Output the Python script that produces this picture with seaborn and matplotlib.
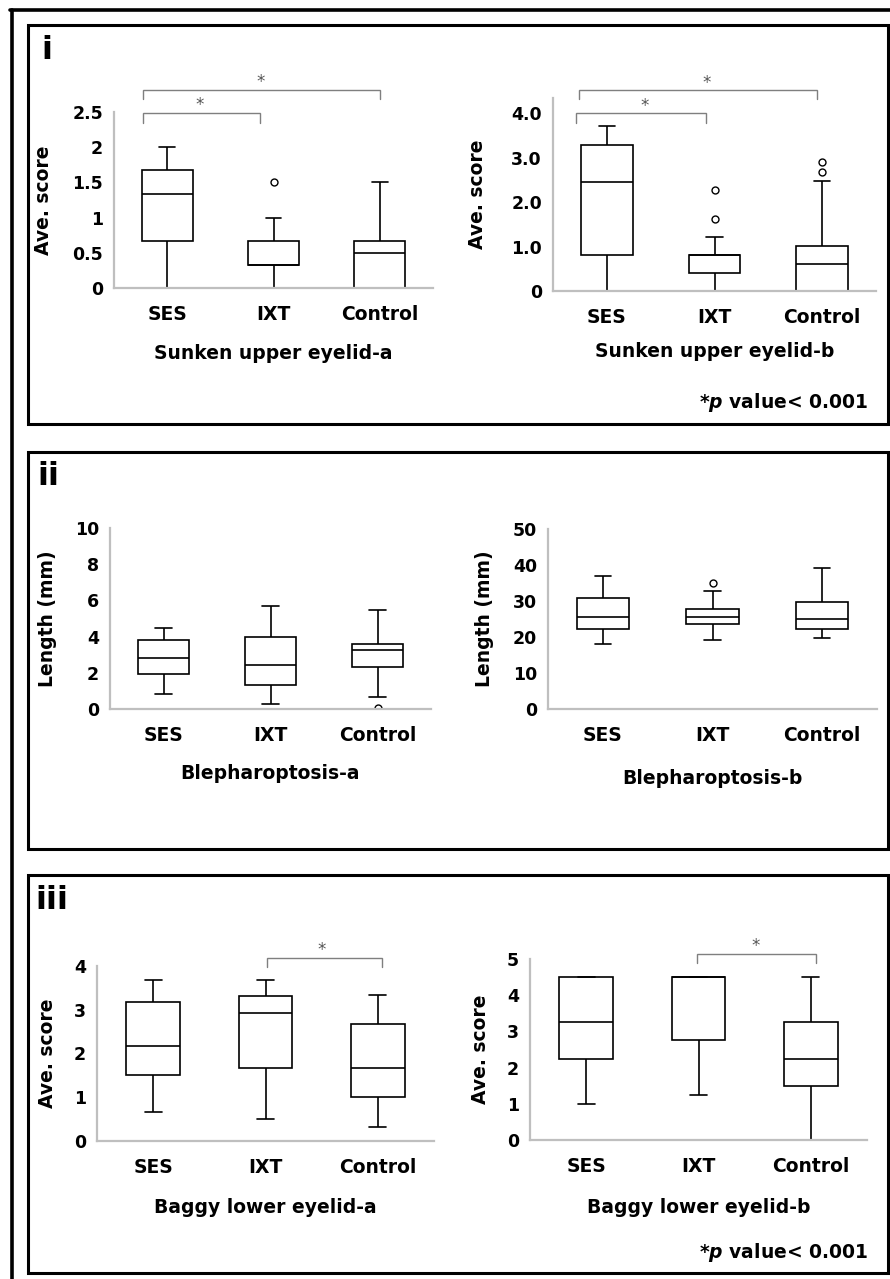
import numpy as np
import pandas as pd
import matplotlib
matplotlib.use("Agg")
import matplotlib.pyplot as plt
from matplotlib.patches import Rectangle
from matplotlib.lines import Line2D
import seaborn as sns

# ---------------- data (five-number summaries: [min, Q1, median, Q3, max]) -------------
GROUPS = ["SES", "IXT", "Control"]

SUA_SES = [0.0, 0.67, 1.33, 1.67, 2.0]
SUA_IXT = [0.0, 0.33, 0.33, 0.67, 1.0]
SUA_CTRL = [0.0, 0.0, 0.5, 0.67, 1.5]
SUA_OUTLIERS = [("IXT", 1.5)]

SUB_SES = [0.0, 0.81, 2.46, 3.29, 3.71]
SUB_IXT = [0.0, 0.40, 0.81, 0.81, 1.22]
SUB_CTRL = [0.0, 0.0, 0.61, 1.02, 2.47]
SUB_OUTLIERS = [("IXT", 1.63), ("IXT", 2.27), ("Control", 2.68), ("Control", 2.89)]

BPA_SES = [0.83, 1.95, 2.80, 3.83, 4.46]
BPA_IXT = [0.29, 1.31, 2.45, 3.98, 5.69]
BPA_CTRL = [0.66, 2.32, 3.24, 3.59, 5.49]
BPA_OUTLIERS = [("Control", 0.05)]

BPB_SES = [18.0, 22.2, 25.6, 30.8, 36.9]
BPB_IXT = [19.1, 23.7, 25.5, 27.9, 32.9]
BPB_CTRL = [19.7, 22.2, 25.1, 29.8, 39.2]
BPB_OUTLIERS = [("IXT", 35.0)]

BLA_SES = [0.66, 1.50, 2.17, 3.18, 3.68]
BLA_IXT = [0.50, 1.66, 2.92, 3.31, 3.68]
BLA_CTRL = [0.33, 1.00, 1.66, 2.67, 3.34]
BLA_OUTLIERS = []

BLB_SES = [0.99, 2.23, 3.25, 4.50, 4.50]
BLB_IXT = [1.23, 2.75, 4.50, 4.50, 4.50]
BLB_CTRL = [0.00, 1.49, 2.23, 3.25, 4.50]
BLB_OUTLIERS = []

YT_SUA = [0, 0.5, 1, 1.5, 2, 2.5]
YL_SUA = ["0", "0.5", "1", "1.5", "2", "2.5"]
YT_SUB = [0, 1, 2, 3, 4]
YL_SUB = ["0", "1.0", "2.0", "3.0", "4.0"]
YT_BPA = [0, 2, 4, 6, 8, 10]
YT_BPB = [0, 10, 20, 30, 40, 50]
YT_BLA = [0, 1, 2, 3, 4]
YT_BLB = [0, 1, 2, 3, 4, 5]

XLABELS = ["Sunken upper eyelid-a", "Sunken upper eyelid-b",
           "Blepharoptosis-a", "Blepharoptosis-b",
           "Baggy lower eyelid-a", "Baggy lower eyelid-b"]
YLAB_SCORE = "Ave. score"
YLAB_LEN = "Length (mm)"
PANEL_TAGS = ["i", "ii", "iii"]
PNOTE = r"*$p$ value< 0.001"

# significance brackets: (x_start, x_end, y_line, y_tick_bottom, star_x, star_y)
BR_SUA = [(-0.23, 2.0, 2.81, 2.68, 0.88, 2.92), (-0.23, 0.87, 2.49, 2.34, 0.31, 2.60)]
BR_SUB = [(-0.26, 1.95, 4.52, 4.31, 0.93, 4.68), (-0.29, 0.92, 4.00, 3.78, 0.35, 4.16)]
BR_BLA = [(1.01, 2.04, 4.19, 3.97, 1.50, 4.37)]
BR_BLB = [(0.99, 2.05, 5.14, 4.89, 1.51, 5.35)]

# ---------------- style ----------------
sns.set_style("white")
plt.rcParams["font.family"] = ["DejaVu Sans"]
plt.rcParams["mathtext.fontset"] = "custom"
plt.rcParams["mathtext.it"] = "DejaVu Sans:italic:bold"
plt.rcParams["mathtext.rm"] = "DejaVu Sans:bold"
for k in ["text.color", "axes.labelcolor", "xtick.color", "ytick.color"]:
    plt.rcParams[k] = "black"

W, H = 890, 1279
fig = plt.figure(figsize=(W / 100, H / 100), dpi=100)
fig.patch.set_facecolor("white")


def px_axes(x0, x1, ytop, ybot):
    return fig.add_axes([x0 / W, 1 - ybot / H, (x1 - x0) / W, (ybot - ytop) / H])


def fx(x):
    return x / W


def fy(y):
    return 1 - y / H


AXIS_GRAY = "#bfbfbf"


def draw(ax, boxes, outliers, ylim, yticks, yticklabels, ylabel, xlabel,
         ylab_x, xlab_y, brackets):
    df = pd.DataFrame({"group": np.repeat(GROUPS, 5),
                       "value": np.concatenate(boxes)})
    sns.boxplot(data=df, x="group", y="value", order=GROUPS, whis=(0, 100),
                width=0.48, color="white", linecolor="black", linewidth=1.2,
                fliersize=0, capwidths=0.15, ax=ax)
    if outliers:
        odf = pd.DataFrame(outliers, columns=["group", "value"])
        sns.stripplot(data=odf, x="group", y="value", order=GROUPS,
                      jitter=False, color="white", edgecolor="black",
                      linewidth=1.0, size=5, ax=ax, zorder=4)
    ax.set_xlim(-0.5, 2.5)
    ax.set_ylim(*ylim)
    ax.set_yticks(yticks)
    ax.set_yticklabels(yticklabels if yticklabels else [str(t) for t in yticks])
    ax.set_facecolor("none")
    ax.grid(False)
    for s in ["top", "right"]:
        ax.spines[s].set_visible(False)
    for s in ["left", "bottom"]:
        ax.spines[s].set_color(AXIS_GRAY)
        ax.spines[s].set_linewidth(1.6)
        ax.spines[s].set_zorder(5)
    ax.tick_params(axis="y", length=0, pad=8, labelsize=12.5, labelcolor="black")
    ax.tick_params(axis="x", length=0, pad=12, labelsize=13.5, labelcolor="black")
    for lab in ax.get_xticklabels() + ax.get_yticklabels():
        lab.set_fontweight("bold")
    ax.set_xlabel(xlabel, fontsize=13.5, fontweight="bold", color="black")
    ax.set_ylabel(ylabel, fontsize=13.5, fontweight="bold", color="black")
    ax.xaxis.set_label_coords(0.5, xlab_y)
    ax.yaxis.set_label_coords(ylab_x, 0.5)
    for (xa, xb, yl, yb, sx, sy) in brackets:
        ax.plot([xa, xa, xb, xb], [yb, yl, yl, yb], color="#7f7f7f", lw=1.0,
                clip_on=False, solid_joinstyle="miter")
        ax.text(sx, sy, "*", ha="center", va="center", fontsize=12,
                color="#555555", family="DejaVu Sans")


ax1 = px_axes(114, 433, 112, 288)
draw(ax1, [SUA_SES, SUA_IXT, SUA_CTRL], SUA_OUTLIERS, (0, 2.5), YT_SUA, YL_SUA,
     YLAB_SCORE, XLABELS[0], -0.19, -0.318, BR_SUA)
ax2 = px_axes(553, 876, 98, 291)
draw(ax2, [SUB_SES, SUB_IXT, SUB_CTRL], SUB_OUTLIERS, (0, 4.34), YT_SUB, YL_SUB,
     YLAB_SCORE, XLABELS[1], -0.205, -0.264, BR_SUB)
ax3 = px_axes(110, 431, 528, 709)
draw(ax3, [BPA_SES, BPA_IXT, BPA_CTRL], BPA_OUTLIERS, (0, 10), YT_BPA, None,
     YLAB_LEN, XLABELS[2], -0.165, -0.304, [])
ax4 = px_axes(548, 877, 529, 709)
draw(ax4, [BPB_SES, BPB_IXT, BPB_CTRL], BPB_OUTLIERS, (0, 50), YT_BPB, None,
     YLAB_LEN, XLABELS[3], -0.165, -0.333, [])
ax5 = px_axes(97, 434, 966, 1141)
draw(ax5, [BLA_SES, BLA_IXT, BLA_CTRL], BLA_OUTLIERS, (0, 4), YT_BLA, None,
     YLAB_SCORE, XLABELS[4], -0.12, -0.326, BR_BLA)
ax6 = px_axes(530, 867, 959, 1140)
draw(ax6, [BLB_SES, BLB_IXT, BLB_CTRL], BLB_OUTLIERS, (0, 5), YT_BLB, None,
     YLAB_SCORE, XLABELS[5], -0.12, -0.32, BR_BLB)

# ---------------- frames ----------------
fig.add_artist(Line2D([fx(10), fx(890)], [fy(9.5), fy(9.5)], color="black",
                      lw=2.6, transform=fig.transFigure))
fig.add_artist(Line2D([fx(11.5), fx(11.5)], [fy(9.5), fy(1279)], color="black",
                      lw=2.6, transform=fig.transFigure))
for (top, bot) in [(24.5, 424), (451.5, 848.5), (874.5, 1272.5)]:
    fig.add_artist(Rectangle((fx(28), fy(bot)), fx(887.5) - fx(28), fy(top) - fy(bot),
                             fill=False, edgecolor="black", lw=2.2,
                             transform=fig.transFigure))

# panel tags
for tag, (x, y) in zip(PANEL_TAGS, [(41, 35), (37, 461), (35, 885)]):
    fig.text(fx(x), fy(y), tag, ha="left", va="top", fontsize=23,
             fontweight="heavy", color="black")

# p-value notes
for y in [402, 1252]:
    fig.text(fx(868), fy(y), PNOTE, ha="right", va="center", fontsize=13.5,
             fontweight="bold", color="black")

fig.savefig("out.png", dpi=100, facecolor="white")
